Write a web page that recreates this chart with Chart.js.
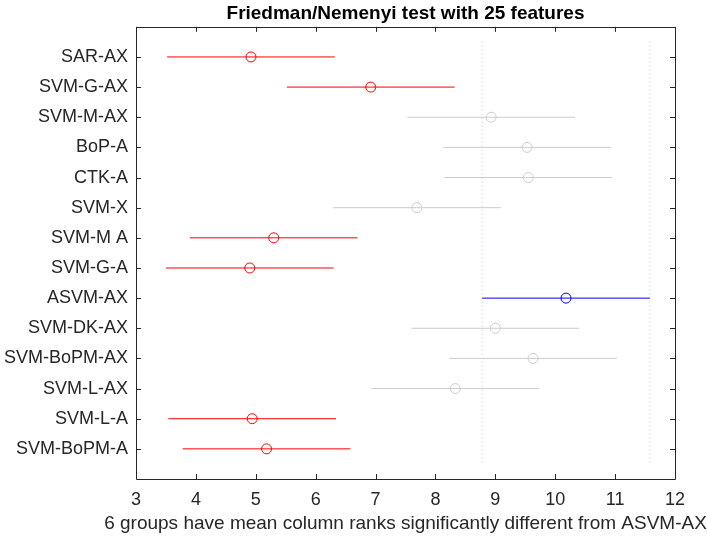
<!DOCTYPE html>
<html>
<head>
<meta charset="utf-8">
<script src="https://cdn.jsdelivr.net/npm/chart.js@4.4.1/dist/chart.umd.min.js"></script>
<style>
  html, body { margin: 0; padding: 0; background: #fff; }
  #wrap { width: 707px; height: 541px; }
</style>
</head>
<body>
<div id="wrap"><canvas id="chart"></canvas></div>
<script>
// Friedman/Nemenyi — mean column ranks with comparison intervals

const groups = [
  'SAR-AX', 'SVM-G-AX', 'SVM-M-AX', 'BoP-A', 'CTK-A', 'SVM-X', 'SVM-M A',
  'SVM-G-A', 'ASVM-AX', 'SVM-DK-AX', 'SVM-BoPM-AX', 'SVM-L-AX', 'SVM-L-A', 'SVM-BoPM-A'
];
const meanRanks = [4.92, 6.92, 8.93, 9.53, 9.55, 7.69, 5.30, 4.90, 10.18, 9.00, 9.63, 8.33, 4.94, 5.18];
const halfWidth = 1.40;
const referenceGroup = 'ASVM-AX';
const xTicks = [3, 4, 5, 6, 7, 8, 9, 10, 11, 12];
const xLabel = '6 groups have mean column ranks significantly different from ASVM-AX';

const TEXT = '#262626';
const RED = '#ff0000';
const BLUE = '#0000ff';
const GREY = '#cccccc';
const FONT = '"Liberation Sans", Arial, Helvetica, sans-serif';
Chart.defaults.font.family = FONT;

const refIdx = groups.indexOf(referenceGroup);
const refLo = meanRanks[refIdx] - halfWidth;
const refHi = meanRanks[refIdx] + halfWidth;

function groupColor(i) {
  if (i === refIdx) return BLUE;
  const lo = meanRanks[i] - halfWidth;
  const hi = meanRanks[i] + halfWidth;
  return (hi < refLo || lo > refHi) ? RED : GREY;
}

const datasets = [];

// dotted limits of the reference interval
[refLo, refHi].forEach(x => {
  datasets.push({
    data: [{ x, y: 0.5 }, { x, y: groups.length + 0.5 }],
    borderColor: '#c4c4c4',
    borderWidth: 1,
    borderDash: [1, 3],
    pointRadius: 0,
    order: 2,
  });
});

groups.forEach((name, i) => {
  const c = groupColor(i);
  const m = meanRanks[i];
  datasets.push({
    label: name,
    data: [{ x: m - halfWidth, y: i + 1 }, { x: m, y: i + 1 }, { x: m + halfWidth, y: i + 1 }],
    borderColor: c,
    borderWidth: 1,
    pointRadius: [0, 5, 0],
    pointBorderColor: c,
    pointBackgroundColor: 'rgba(0,0,0,0)',
    pointBorderWidth: 1,
    tension: 0,
    order: 1,
  });
});

// MATLAB style box with inward ticks + x label (wider than the axes, so not the built-in title)
const framePlugin = {
  id: 'frame',
  afterDraw(chart) {
    const { ctx, chartArea: a, scales: { x, y } } = chart;
    const tl = 5;
    ctx.save();
    ctx.strokeStyle = TEXT;
    ctx.lineWidth = 1;
    ctx.beginPath();
    ctx.rect(Math.round(a.left) + 0.5, Math.round(a.top) + 0.5,
             Math.round(a.right - a.left), Math.round(a.bottom - a.top));
    xTicks.forEach(v => {
      const px = Math.round(x.getPixelForValue(v)) + 0.5;
      ctx.moveTo(px, a.bottom); ctx.lineTo(px, a.bottom - tl);
      ctx.moveTo(px, a.top); ctx.lineTo(px, a.top + tl);
    });
    groups.forEach((_, i) => {
      const py = Math.round(y.getPixelForValue(i + 1)) + 0.5;
      ctx.moveTo(a.left, py); ctx.lineTo(a.left + tl, py);
      ctx.moveTo(a.right, py); ctx.lineTo(a.right - tl, py);
    });
    ctx.stroke();

    ctx.fillStyle = TEXT;
    ctx.font = '19px ' + FONT;
    ctx.textAlign = 'center';
    ctx.textBaseline = 'middle';
    ctx.fillText(xLabel, (a.left + a.right) / 2, a.bottom + 45);
    ctx.restore();
  }
};

new Chart(document.getElementById('chart'), {
  type: 'line',
  data: { datasets },
  options: {
    responsive: true,
    maintainAspectRatio: false,
    animation: false,
    layout: { padding: { top: 0, right: 32, bottom: 0, left: 0 } },
    scales: {
      x: {
        type: 'linear',
        min: 3,
        max: 12,
        afterBuildTicks: axis => { axis.ticks = xTicks.map(v => ({ value: v })); },
        afterFit: scale => { scale.height = 62; },
        grid: { display: false, drawTicks: false },
        border: { display: false },
        ticks: { color: TEXT, font: { size: 18 }, padding: 10, maxRotation: 0 },
      },
      y: {
        type: 'linear',
        reverse: true,
        min: 0,
        max: groups.length + 1,
        afterBuildTicks: axis => { axis.ticks = groups.map((_, i) => ({ value: i + 1 })); },
        afterFit: scale => { scale.width = 136; },
        grid: { display: false, drawTicks: false },
        border: { display: false },
        ticks: {
          color: TEXT,
          font: { size: 18 },
          padding: 8,
          autoSkip: false,
          callback: v => groups[v - 1],
        },
      },
    },
    plugins: {
      legend: { display: false },
      tooltip: { enabled: false },
      title: {
        display: true,
        fullSize: false,
        text: 'Friedman/Nemenyi test with 25 features',
        color: '#000',
        font: { size: 19, weight: 'bold' },
        padding: { top: 2, bottom: 2 },
      },
    },
  },
  plugins: [framePlugin],
});
</script>
</body>
</html>
